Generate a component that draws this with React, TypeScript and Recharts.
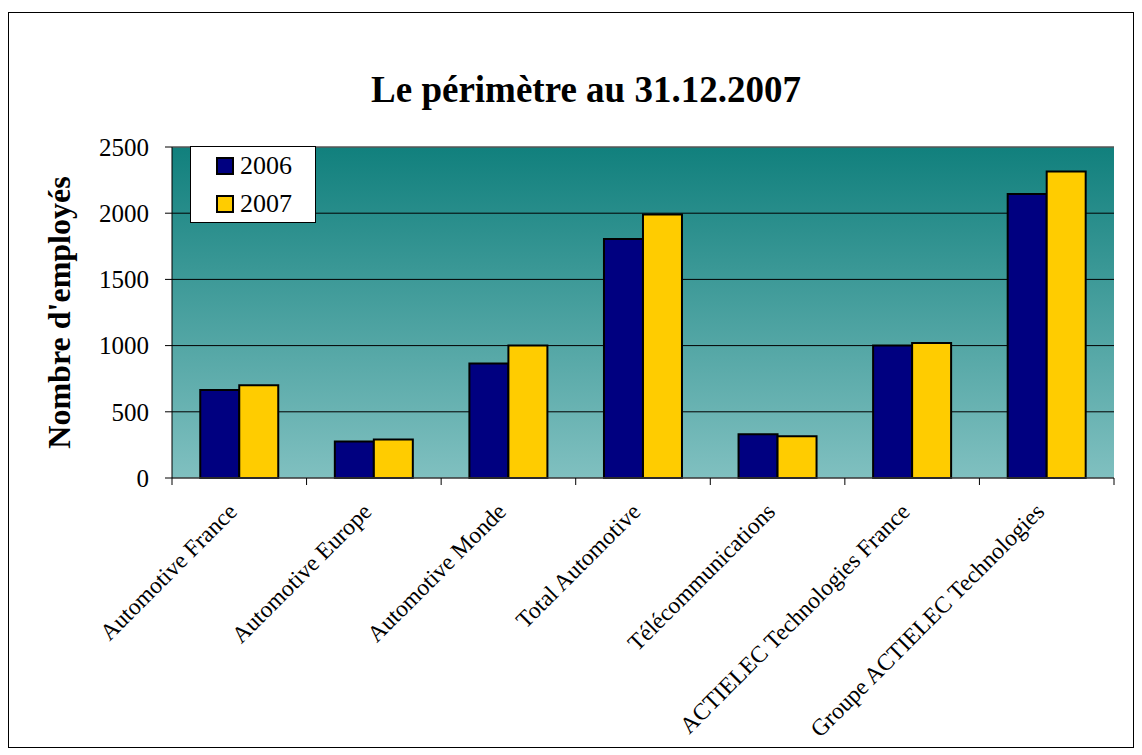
import {
  BarChart,
  Bar,
  XAxis,
  YAxis,
  CartesianGrid,
  Legend,
  ReferenceLine,
} from 'recharts';

const categories = [
  'Automotive France',
  'Automotive Europe',
  'Automotive Monde',
  'Total Automotive',
  'Télécommunications',
  'ACTIELEC Technologies France',
  'Groupe ACTIELEC Technologies',
];
const values2006 = [665, 275, 865, 1805, 330, 1000, 2145];
const values2007 = [700, 290, 1000, 1990, 315, 1020, 2315];
const yTicks = [0, 500, 1000, 1500, 2000, 2500];

const data = categories.map((name, i) => ({
  name,
  y2006: values2006[i],
  y2007: values2007[i],
}));

const FONT = '"Liberation Serif", "Times New Roman", serif';
const CHART_W = 1124;
const CHART_H = 734;
const Y_AXIS_W = 163;
const RIGHT_GAP = 19;
const HALF_BAND = (CHART_W - Y_AXIS_W - RIGHT_GAP) / categories.length / 2;

function CategoryTick({ x, y, payload, index }: any) {
  const last = index === categories.length - 1;
  const tx = x - 1;
  const ty = y + 35;
  return (
    <g>
      <line x1={x - HALF_BAND} y1={y} x2={x - HALF_BAND} y2={y + 7} stroke="#000" />
      {last && <line x1={x + HALF_BAND} y1={y} x2={x + HALF_BAND} y2={y + 7} stroke="#000" />}
      <text
        x={tx}
        y={ty}
        transform={`rotate(-45, ${tx}, ${ty})`}
        textAnchor="end"
        fontFamily={FONT}
        fontSize={23.5}
        fill="#000"
      >
        {payload.value}
      </text>
    </g>
  );
}

function LegendBox({ payload }: any) {
  return (
    <div
      style={{
        border: '1px solid #000',
        background: '#fff',
        width: 124,
        height: 75,
        boxSizing: 'content-box',
      }}
    >
      {(payload || []).map((entry: any) => (
        <div
          key={entry.value}
          style={{ display: 'flex', alignItems: 'center', height: 38, paddingLeft: 25 }}
        >
          <span
            style={{
              width: 14,
              height: 14,
              border: '2px solid #000',
              background: entry.color,
              display: 'inline-block',
            }}
          />
          <span style={{ fontFamily: FONT, fontSize: 26, color: '#000', marginLeft: 6 }}>
            {entry.value}
          </span>
        </div>
      ))}
    </div>
  );
}

export default function App() {
  return (
    <div
      style={{
        position: 'relative',
        width: CHART_W,
        height: CHART_H,
        border: '1px solid #000',
        marginTop: 4,
        background: '#fff',
      }}
    >
      <div
        style={{
          position: 'absolute',
          left: 177,
          top: 58,
          width: 800,
          textAlign: 'center',
          fontFamily: FONT,
          fontWeight: 'bold',
          fontSize: 37,
          lineHeight: '37px',
          color: '#000',
        }}
      >
        Le périmètre au 31.12.2007
      </div>
      <BarChart
        width={CHART_W}
        height={CHART_H}
        data={data}
        margin={{ top: 134, right: RIGHT_GAP, bottom: 0, left: 0 }}
        barCategoryGap="21%"
        barGap={0}
      >
        <defs>
          <linearGradient id="plotBg" x1="0" y1="0" x2="0" y2="1">
            <stop offset="0%" stopColor="#11807d" />
            <stop offset="100%" stopColor="#80c0c0" />
          </linearGradient>
        </defs>
        <CartesianGrid vertical={false} stroke="#000" fill="url(#plotBg)" fillOpacity={1} />
        <XAxis
          dataKey="name"
          height={269}
          interval={0}
          tickLine={false}
          tickSize={0}
          tickMargin={0}
          axisLine={{ stroke: '#555' }}
          tick={<CategoryTick />}
        />
        <YAxis
          width={Y_AXIS_W}
          domain={[0, 2500]}
          ticks={yTicks}
          interval={0}
          tickSize={7}
          tickMargin={16}
          axisLine={{ stroke: '#000' }}
          tickLine={{ stroke: '#000' }}
          tick={{ fill: '#000', fontSize: 25, fontFamily: FONT }}
          label={{
            value: "Nombre d'employés",
            angle: -90,
            position: 'center',
            dx: -32,
            style: { fontFamily: FONT, fontWeight: 'bold', fontSize: 32, fill: '#000' },
          }}
        />
        <YAxis
          yAxisId="right"
          orientation="right"
          width={0}
          domain={[0, 2500]}
          tick={false}
          tickLine={false}
          axisLine={{ stroke: '#808080' }}
        />
        <ReferenceLine y={2500} stroke="#808080" />
        <Legend
          layout="vertical"
          align="center"
          verticalAlign="middle"
          content={<LegendBox />}
          wrapperStyle={{ left: 181, top: 133, width: 126, height: 77 }}
        />
        <Bar
          dataKey="y2006"
          name="2006"
          fill="#000080"
          stroke="#000"
          strokeWidth={2}
          isAnimationActive={false}
        />
        <Bar
          dataKey="y2007"
          name="2007"
          fill="#ffcc00"
          stroke="#000"
          strokeWidth={2}
          isAnimationActive={false}
        />
      </BarChart>
    </div>
  );
}
